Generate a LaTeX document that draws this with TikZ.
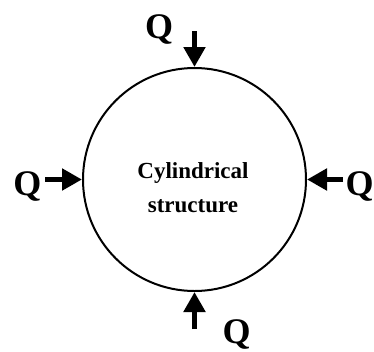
\documentclass[tikz,border=0pt]{standalone}
\usepackage{fontspec}
\setmainfont{Liberation Serif}
\usetikzlibrary{arrows.meta}
\begin{document}
\begin{tikzpicture}[x=1pt,y=-1pt,
  qlabel/.style={font=\bfseries\fontsize{36}{36}\selectfont, inner sep=0pt, anchor=base},
  loadarrow/.style={line width=5.5pt, -{Triangle[length=20pt,width=21pt]}},
  body/.style={circle, draw, line width=2pt, minimum size=223pt, inner sep=0pt}]
\useasboundingbox (0,0) rectangle (374,351);
\node[body] (c) at (194.5,179.5) {};
\node[font=\bfseries\fontsize{23}{34}\selectfont, align=center, inner sep=0pt] (t) at (193,188) {Cylindrical\\structure};
% loads
\coordinate (st) at (194.5,31);
\coordinate (sb) at (194.5,329);
\coordinate (sl) at (45,179.5);
\coordinate (sr) at (343,179.5);
\draw[loadarrow] (st) -- (c.north);
\draw[loadarrow] (sb) -- (c.south);
\draw[loadarrow] (sl) -- (c.west);
\draw[loadarrow] (sr) -- (c.east);
\node[qlabel] (qt) at (159,38) {Q};
\node[qlabel] (qb) at (236.5,343) {Q};
\node[qlabel] (ql) at (27.5,195) {Q};
\node[qlabel] (qr) at (359.5,195) {Q};
\end{tikzpicture}
\end{document}
